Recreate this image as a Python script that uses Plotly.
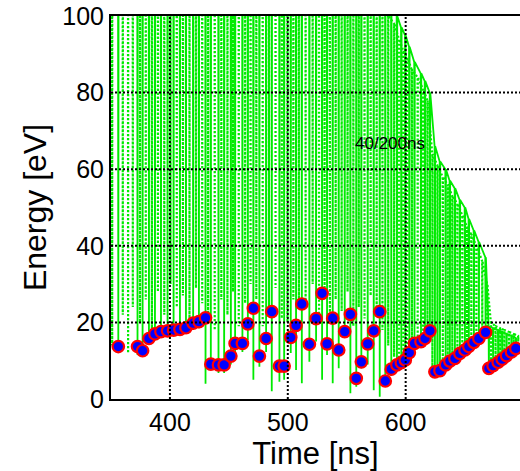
import plotly.graph_objects as go

# Sampled energy points (time in ns, energy in eV)
t_sample = [356.2, 372.5, 376.8, 382.2, 387.3, 392.4, 398.0, 403.1, 408.5, 413.6,
            419.7, 424.6, 430.2, 434.7, 441.2, 446.0, 451.7, 455.3, 461.5, 466.1,
            470.8, 475.9, 481.6, 486.4, 492.9, 496.9, 502.5, 507.0, 511.9, 518.3,
            524.0, 529.1, 533.3, 538.1, 543.2, 548.3, 553.1, 558.1, 562.4, 567.8,
            572.9, 578.0, 582.7, 587.8, 592.6, 596.3, 599.7, 603.1, 607.5, 613.0,
            616.4, 620.6, 624.8, 629.1, 633.9, 637.5, 641.8, 646.0, 650.3, 653.6,
            657.9, 662.1, 667.8, 670.6, 674.2, 678.5, 681.9, 685.6, 689.8, 693.5]
e_sample = [13.7, 13.7, 12.6, 15.8, 17.0, 17.6, 17.8, 18.0, 18.2, 18.6,
            19.8, 20.2, 21.2, 9.1, 8.9, 8.9, 11.2, 14.5, 14.5, 19.6,
            23.7, 11.2, 15.8, 22.8, 8.6, 8.6, 16.1, 19.2, 24.8, 14.3,
            21.0, 27.6, 14.4, 21.1, 12.8, 17.6, 22.1, 5.4, 9.7, 14.4,
            17.8, 22.8, 4.7, 7.8, 8.9, 9.5, 10.2, 12.1, 14.5, 15.0,
            15.8, 17.8, 7.1, 7.4, 8.9, 9.9, 10.6, 11.9, 12.8, 13.7,
            14.8, 15.8, 17.4, 8.0, 8.7, 9.6, 10.4, 11.3, 12.3, 13.2]

# Energy oscillation, first component: minima and maxima per cycle
OFF_SCALE = 130  # maxima that run above the plotted range
osc1_t = t_sample
osc1_lo = [12, 11.5, 11, 14.5, 15.5, 16, 16.5, 16.5, 17, 17,
           18, 18.5, 4, 7.6, 6.8, 6.8, 9, 12.3, 12.3, 15.4,
           5, 8.4, 12.3, 2, 4.5, 5, 12, 7.6, 4.1, 9.7,
           15, 5, 11.5, 4.1, 8, 16, 1.5, 3.2, 8, 9,
           2.3, 0.6, 4, 6, 7.5, 8, 9.5, 10.5, 13.5, 14,
           15, 16.5, 6, 6.5, 7.5, 8.5, 9.5, 10.5, 11.5, 12.5,
           13.5, 14.5, 16, 7, 8, 9, 10, 10.5, 11.5, 12.5]
osc1_hi = [OFF_SCALE] * 44 + [100, 97, 95, 92, 88, 85, 83, 80,
                              66, 62, 60, 57, 55, 52, 50, 47, 44, 41, 37,
                              19, 18.5, 18, 17.5, 17, 16.5, 16]

# Energy oscillation, second component
osc2_t = [351, 360, 364.5, 368.5, 374.6, 379.5, 384.7, 389.8, 395.2, 400.5,
          405.8, 411, 416.6, 422.1, 427.4, 432.4, 438, 443.6, 448.8, 453.5,
          458.4, 463.8, 468.4, 473.3, 478.7, 484, 489.6, 494.9, 499.7, 504.7,
          509.4, 515.1, 521.1, 526.5, 531.2, 535.7, 540.6, 545.7, 550.7, 555.6,
          560.2, 565.1, 570.3, 575.4, 580.3, 585.2, 590.2, 594.4, 598, 601.4,
          605.3, 610.2, 614.7, 618.5, 622.7, 627, 631.5, 635.7, 639.6, 643.9,
          648.1, 652, 655.7, 660, 665, 669.2, 672.4, 676.3, 680.2, 683.7,
          687.7, 691.6, 695.5]
osc2_lo = [14, 22, 12, 24, 20, 26, 18, 28, 22, 30,
           24, 27, 21, 29, 25, 20, 18, 26, 22, 28,
           19, 25, 30, 26, 19, 23, 29, 21, 20, 26,
           24, 24, 30, 22, 27, 20, 26, 23, 28, 19,
           24, 21, 27, 22, 18, 14, 11, 10, 11, 12,
           13, 15, 16, 18, 8, 8.5, 9.5, 10.5, 11.5, 12.5,
           13.5, 14.5, 15.5, 16.5, 17.5, 18.5, 9, 10, 11, 12,
           13, 14, 15]
osc2_hi = [OFF_SCALE] * 45 + [100, 98, 94, 91, 89, 86, 84, 81, 78,
                              64, 61, 58, 56, 53, 51, 48, 45, 43, 40, 36, 30,
                              20, 19, 18.5, 18, 17.5, 17, 16.5]

x_ticks = [400, 500, 600]
y_ticks = [0, 20, 40, 60, 80, 100]
x_range = [350, 697]
y_range = [0, 100]

GREEN = "rgb(0,235,0)"
FONT = "Liberation Sans, Arial, Helvetica, sans-serif"


def dip_path(times, lows, highs, half_width):
    """Turn per-cycle minima/maxima into a narrow-dip polyline."""
    xs, ys = [], []
    for t, lo, hi in zip(times, lows, highs):
        xs += [t - half_width, t, t + half_width]
        ys += [hi, lo, hi]
    return xs, ys


x2, y2 = dip_path(osc2_t, osc2_lo, osc2_hi, 0.12)
x1, y1 = dip_path(osc1_t, osc1_lo, osc1_hi, 0.25)

fig = go.Figure()
fig.add_trace(go.Scatter(x=x2, y=y2, mode="lines",
                         line=dict(color=GREEN, width=2.2, dash="2px,2px"),
                         hoverinfo="skip", showlegend=False))
fig.add_trace(go.Scatter(x=x1, y=y1, mode="lines",
                         line=dict(color=GREEN, width=1.8),
                         hoverinfo="skip", showlegend=False))
fig.add_trace(go.Scatter(x=t_sample, y=e_sample, mode="markers",
                         marker=dict(size=11.5, color="#0000ff",
                                     line=dict(color="#ff0000", width=2.2)),
                         showlegend=False))

# dotted grid drawn over the curves
for xv in x_ticks:
    fig.add_shape(type="line", xref="x", yref="paper", x0=xv, x1=xv, y0=0, y1=1,
                  line=dict(color="black", width=2, dash="2px,2px"), layer="above")
for yv in y_ticks[1:-1]:
    fig.add_shape(type="line", xref="paper", yref="y", x0=0, x1=1, y0=yv, y1=yv,
                  line=dict(color="black", width=2, dash="2px,2px"), layer="above")

fig.add_annotation(x=586.7, y=66.6, text="40/200ns", showarrow=False,
                   font=dict(family=FONT, size=17, color="black"))

fig.update_layout(
    width=520, height=471,
    margin=dict(l=111, r=0, t=16, b=72),
    paper_bgcolor="white", plot_bgcolor="white",
    font=dict(family=FONT, color="black"),
)
fig.update_xaxes(range=x_range, tickvals=x_ticks, showgrid=False, zeroline=False,
                 showline=True, linecolor="black", linewidth=2, mirror=True,
                 ticks="", tickfont=dict(size=25), layer="below traces",
                 title=dict(text="Time [ns]", font=dict(size=31), standoff=7))
fig.update_yaxes(range=y_range, tickvals=y_ticks, showgrid=False, zeroline=False,
                 showline=True, linecolor="black", linewidth=2,
                 ticks="", tickfont=dict(size=25), layer="below traces",
                 title=dict(text="Energy [eV]", font=dict(size=32), standoff=6))

fig.write_html("out.html")
